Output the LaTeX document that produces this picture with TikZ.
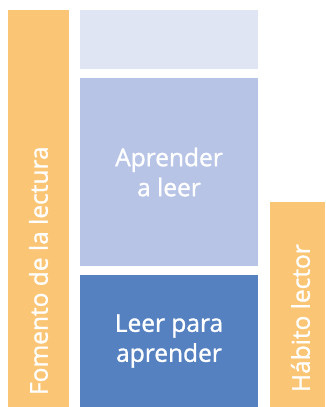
\documentclass[tikz,border=0pt]{standalone}
\usepackage{fontspec}
\setmainfont{Open Sans}[FakeBold=1.2]
\usepackage{tikz}
\usetikzlibrary{positioning,calc}
\definecolor{orangebar}{HTML}{FAC574}
\definecolor{lightblue}{HTML}{DFE5F3}
\definecolor{midblue}{HTML}{B7C4E6}
\definecolor{darkblue}{HTML}{5581C1}

\begin{document}
\begin{tikzpicture}[x=1pt, y=1pt, inner sep=0pt, outer sep=0pt]
\tikzstyle{every node}=[text=white, font=\fontsize{24.5}{30}\selectfont]
\tikzstyle{block}=[rectangle, draw=none, align=center]
\useasboundingbox (0,0) rectangle (325,407);

\node[block, fill=orangebar, minimum width=61pt, minimum height=397pt]  (F) at (38.5,198.5) {};
\node[block, fill=lightblue, minimum width=178pt, minimum height=59pt]  (T) at (169,367.5)  {};
\node[block, fill=midblue, minimum width=178pt, minimum height=188pt]   (A) at (169,235)    {Aprender\\a leer};
\node[block, fill=darkblue, minimum width=178pt, minimum height=132pt]  (L) at (169,66)     {Leer para\\aprender};
\node[block, fill=orangebar, minimum width=55pt, minimum height=205pt]  (H) at (297.5,102.5) {};

\node[rotate=90, anchor=west] (Ft) at ($(F.south)+(0,12)$) {Fomento de la lectura};
\node[rotate=90, anchor=west] (Ht) at ($(H.south)+(3,15)$) {Hábito lector};
\end{tikzpicture}
\end{document}
